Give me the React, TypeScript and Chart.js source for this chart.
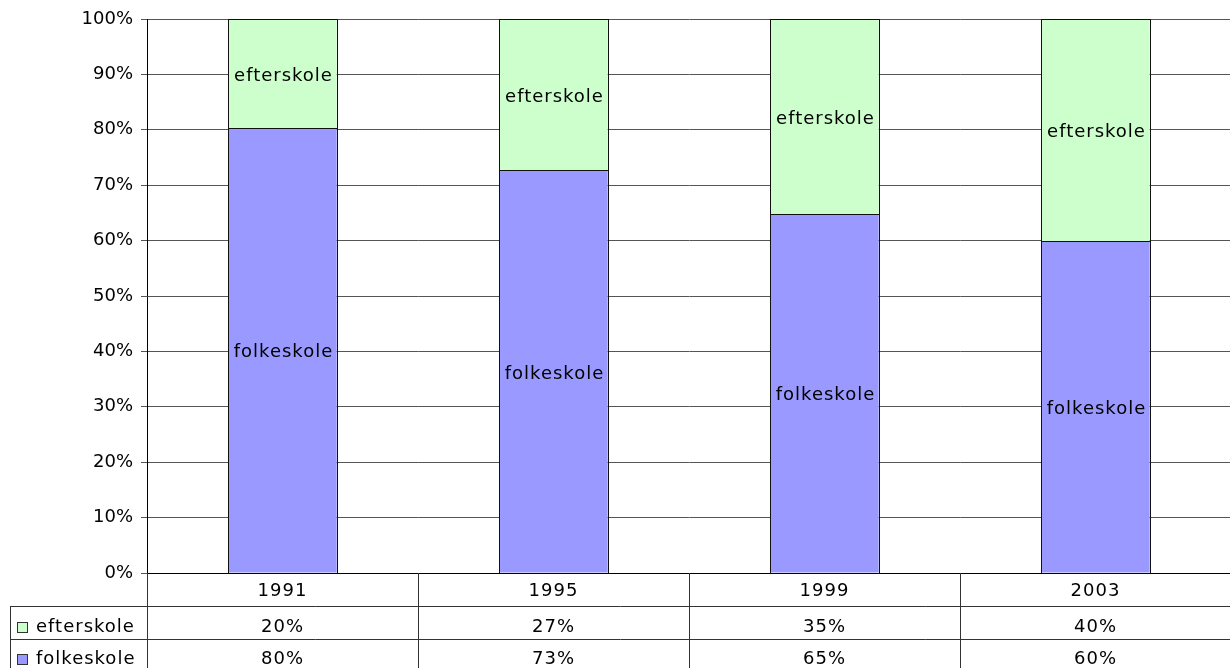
import React, { useEffect, useRef } from "react";
import { Chart, registerables } from "chart.js";

Chart.register(...registerables);

const years = ["1991", "1995", "1999", "2003"];
const folkeskole = [80.3, 72.7, 64.8, 59.9];
const efterskole = [19.7, 27.3, 35.2, 40.1];
const efterskoleTable = ["20%", "27%", "35%", "40%"];
const folkeskoleTable = ["80%", "73%", "65%", "60%"];
const seriesNames = ["folkeskole", "efterskole"];

const FONT = "DejaVu Sans";
const GREEN = "#CCFFCC";
const BLUE = "#9999FF";

export default function App() {
  const ref = useRef<HTMLCanvasElement | null>(null);

  useEffect(() => {
    document.body.style.margin = "0";
    const canvas = ref.current!;
    const labelPlugin = {
      id: "segLabels",
      afterDatasetsDraw(chart: any) {
        const ctx = chart.ctx;
        ctx.save();
        ctx.strokeStyle = "#111";
        ctx.lineWidth = 1;
        chart.data.datasets.forEach((ds: any, i: number) => {
          const meta = chart.getDatasetMeta(i);
          meta.data.forEach((bar: any) => {
            const x1 = Math.round(bar.x - bar.width / 2) + 0.5;
            const x2 = Math.round(bar.x + bar.width / 2) + 0.5;
            const y1 = Math.round(Math.min(bar.y, bar.base)) + 0.5;
            const y2 = Math.round(Math.max(bar.y, bar.base)) + 0.5;
            ctx.strokeRect(x1, y1, x2 - x1, y2 - y1);
          });
        });
        ctx.font = `18px "${FONT}"`;
        ctx.fillStyle = "#000";
        ctx.textAlign = "center";
        ctx.textBaseline = "middle";
        try { (ctx as any).letterSpacing = "1px"; } catch (e) {}
        chart.data.datasets.forEach((ds: any, i: number) => {
          const meta = chart.getDatasetMeta(i);
          meta.data.forEach((bar: any) => {
            const cy = (bar.y + bar.base) / 2;
            ctx.fillText(ds.label, bar.x + 1, cy + 2.5);
          });
        });
        ctx.restore();
      },
    };
    const tablePlugin = {
      id: "dataTable",
      afterDraw(chart: any) {
        const ctx = chart.ctx;
        const a = chart.chartArea;
        const left = a.left;
        const right = 1231;
        const n = years.length;
        const w = (a.right - a.left) / n;
        const r0 = a.bottom;
        const r1 = r0 + 33;
        const r2 = r1 + 33;
        const bottom = 668;
        ctx.save();
        ctx.lineWidth = 1;
        const hl = (x1: number, x2: number, y: number) => {
          ctx.beginPath();
          ctx.moveTo(x1, Math.round(y) + 0.5);
          ctx.lineTo(x2, Math.round(y) + 0.5);
          ctx.stroke();
        };
        const vl = (x: number, y1: number, y2: number) => {
          ctx.beginPath();
          ctx.moveTo(Math.round(x) + 0.5, y1);
          ctx.lineTo(Math.round(x) + 0.5, y2);
          ctx.stroke();
        };
        ctx.strokeStyle = "#000";
        hl(left, right, r0);
        ctx.strokeStyle = "#333";
        hl(10, right, r1);
        hl(10, right, r2);
        vl(10, r1, bottom);
        for (let i = 0; i <= n; i++) {
          vl(left + i * w, r0, bottom);
        }
        ctx.font = `18px "${FONT}"`;
        ctx.fillStyle = "#000";
        ctx.textAlign = "center";
        ctx.textBaseline = "middle";
        try { (ctx as any).letterSpacing = "1px"; } catch (e) {}
        const y0 = (r0 + r1) / 2 + 1.5;
        const yE = r1 + 21;
        const yF = r2 + 20;
        for (let i = 0; i < n; i++) {
          const cx = left + (i + 0.5) * w;
          ctx.fillText(years[i], cx, y0);
          ctx.fillText(efterskoleTable[i], cx, yE);
          ctx.fillText(folkeskoleTable[i], cx, yF);
        }
        const rows = [
          { name: seriesNames[1], color: GREEN, y: yE },
          { name: seriesNames[0], color: BLUE, y: yF },
        ];
        ctx.textAlign = "left";
        rows.forEach((r) => {
          ctx.fillStyle = r.color;
          const sy = Math.round(r.y - 5);
          ctx.fillRect(17, sy, 11, 11);
          ctx.strokeStyle = "#333";
          ctx.strokeRect(17.5, sy + 0.5, 10, 10);
          ctx.fillStyle = "#000";
          ctx.fillText(r.name, 36, r.y);
        });
        ctx.restore();
      },
    };

    const chart = new Chart(canvas, {
      type: "bar",
      data: {
        labels: years,
        datasets: [
          {
            label: seriesNames[0],
            data: folkeskole,
            backgroundColor: BLUE,
            borderWidth: 0,
          },
          {
            label: seriesNames[1],
            data: efterskole,
            backgroundColor: GREEN,
            borderWidth: 0,
          },
        ],
      },
      options: {
        responsive: false,
        animation: false,
        layout: { padding: { top: 19, bottom: 95, left: 0, right: 0 } },
        plugins: {
          legend: { display: false },
          tooltip: { enabled: false },
          title: { display: false },
        },
        datasets: { bar: { categoryPercentage: 1, barPercentage: 0.4 } },
        scales: {
          x: {
            stacked: true,
            display: false,
          },
          y: {
            stacked: true,
            min: 0,
            max: 100,
            afterFit: (s: any) => {
              s.width = 147;
            },
            ticks: {
              stepSize: 10,
              padding: 8,
              color: "#000",
              font: { family: FONT, size: 18 },
              callback: (v: any) => v + "%",
            },
            grid: {
              color: "#555",
              lineWidth: 1,
              tickLength: 6,
              tickColor: "#555",
            },
            border: { color: "#000", width: 1 },
          },
        },
      },
      plugins: [labelPlugin, tablePlugin],
    });
    return () => chart.destroy();
  }, []);

  return (
    <div style={{ position: "absolute", left: 0, top: 0, width: 1230, height: 668, overflow: "hidden" }}>
      <canvas ref={ref} width={1231} height={668} style={{ display: "block" }} />
    </div>
  );
}
